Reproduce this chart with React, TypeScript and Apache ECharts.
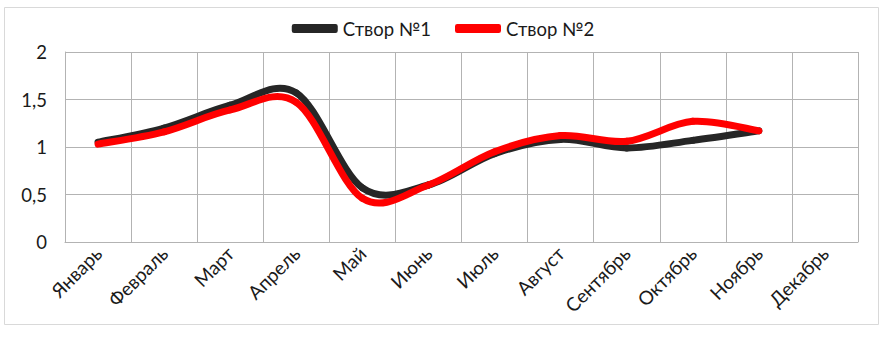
import React, { useEffect, useRef } from "react";
import * as echarts from "echarts";

const categories = ["Январь", "Февраль", "Март", "Апрель", "Май", "Июнь", "Июль", "Август", "Сентябрь", "Октябрь", "Ноябрь", "Декабрь"];
const stvor1: (number | null)[] = [1.05, 1.2, 1.44, 1.57, 0.57, 0.6, 0.93, 1.08, 0.99, 1.07, 1.17, null];
const stvor2: (number | null)[] = [1.03, 1.16, 1.39, 1.47, 0.46, 0.6, 0.95, 1.12, 1.06, 1.27, 1.17, null];
const seriesNames = ["Створ №1", "Створ №2"];
const colors = ["#262626", "#ff0000"];
const FONT = "Lato, 'Noto Sans', sans-serif";

function splineSeries(name: string, values: (number | null)[], color: string) {
  const data = values.map((v, i) => [i, v == null ? "-" : v]);
  return {
    name,
    type: "custom",
    data,
    encode: { x: 0, y: 1 },
    itemStyle: { color },
    renderItem: (params: any, api: any) => {
      const i = params.dataIndex;
      const n = values.length;
      const v = (k: number) => (k >= 0 && k < n ? values[k] : null);
      if (v(i) == null || v(i + 1) == null) return null;
      const p1 = api.coord([i, v(i)]);
      const p2 = api.coord([i + 1, v(i + 1)]);
      const p0 = v(i - 1) != null ? api.coord([i - 1, v(i - 1)]) : p1;
      const p3 = v(i + 2) != null ? api.coord([i + 2, v(i + 2)]) : p2;
      const t = 6;
      const c1 = [p1[0] + (p2[0] - p0[0]) / t, p1[1] + (p2[1] - p0[1]) / t];
      const c2 = [p2[0] - (p3[0] - p1[0]) / t, p2[1] - (p3[1] - p1[1]) / t];
      return {
        type: "bezierCurve",
        shape: { x1: p1[0], y1: p1[1], x2: p2[0], y2: p2[1], cpx1: c1[0], cpy1: c1[1], cpx2: c2[0], cpy2: c2[1] },
        style: { stroke: color, fill: "none", lineWidth: 7, lineCap: "round", lineJoin: "round" },
        silent: true,
      };
    },
  };
}

export default function App() {
  const ref = useRef<HTMLDivElement>(null);
  useEffect(() => {
    if (!ref.current) return;
    const chart = echarts.init(ref.current, null, { renderer: "svg" });
    const grid = "#b3b3b3";
    chart.setOption({
      animation: false,
      backgroundColor: "#fff",
      textStyle: { fontFamily: FONT },
      graphic: [
        {
          type: "rect",
          shape: { x: 4.5, y: 7.5, width: 874, height: 317 },
          style: { fill: "none", stroke: "#d9d9d9", lineWidth: 1 },
          silent: true,
        },
      ],
      legend: {
        top: 14,
        left: "center",
        icon: "roundRect",
        itemWidth: 46,
        itemHeight: 9,
        itemGap: 24,
        textStyle: { fontSize: 18.5, color: "#1a1a1a", fontFamily: FONT },
        data: seriesNames.map((n, k) => ({ name: n, itemStyle: { color: colors[k] } })),
      },
      grid: { left: 65, right: 28, top: 52, bottom: 95, containLabel: false },
      xAxis: {
        type: "category",
        data: categories,
        boundaryGap: true,
        axisLine: { show: true, lineStyle: { color: grid, width: 1 } },
        axisTick: { show: false },
        splitLine: { show: true, lineStyle: { color: grid, width: 1 } },
        axisLabel: { rotate: 45, fontSize: 19, color: "#1a1a1a", margin: 8, fontFamily: FONT, interval: 0 },
      },
      yAxis: {
        type: "value",
        min: 0,
        max: 2,
        interval: 0.5,
        axisLine: { show: true, lineStyle: { color: grid, width: 1 } },
        axisTick: { show: false },
        splitLine: { show: true, lineStyle: { color: grid, width: 1 } },
        axisLabel: {
          fontSize: 18.5,
          color: "#1a1a1a",
          margin: 18,
          fontFamily: FONT,
          formatter: (v: number) => String(v).replace(".", ","),
        },
      },
      series: [
        splineSeries(seriesNames[0], stvor1, colors[0]),
        splineSeries(seriesNames[1], stvor2, colors[1]),
      ],
    });
    return () => chart.dispose();
  }, []);
  return <div ref={ref} style={{ position: "fixed", left: 0, top: 0, width: 886, height: 337 }} />;
}
